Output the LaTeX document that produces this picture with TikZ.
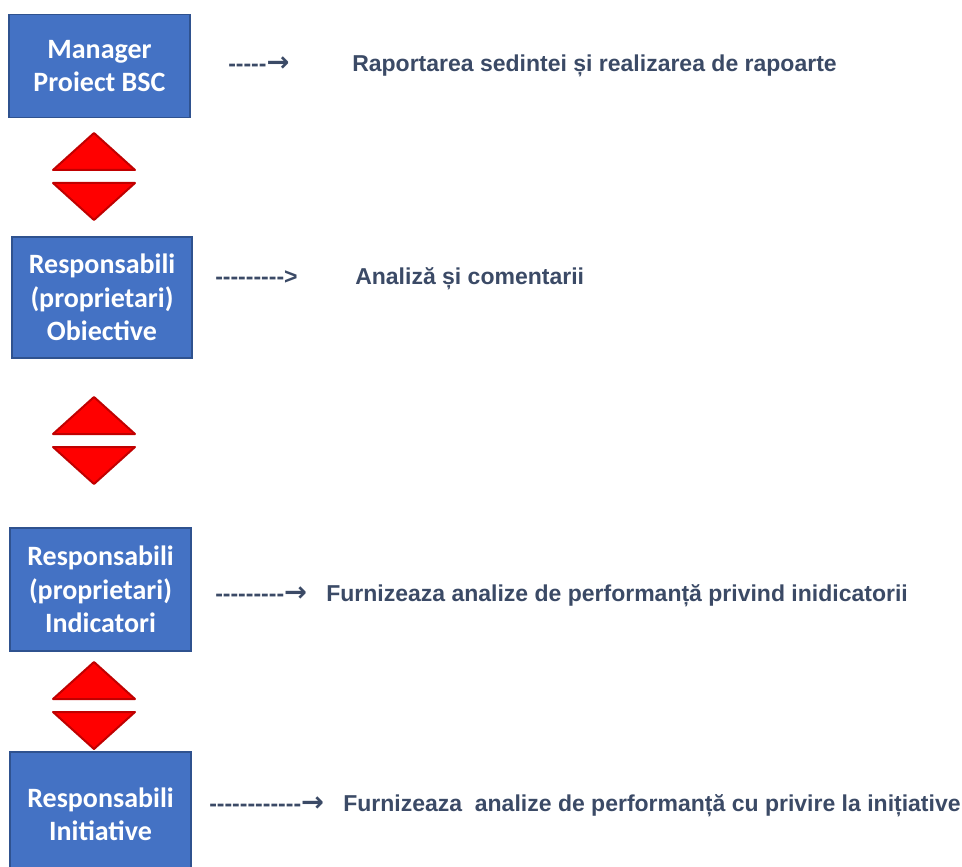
\documentclass[tikz,border=0pt]{standalone}
\usepackage{fontspec}
\setmainfont{Liberation Sans}
\newfontfamily\boxfont{Carlito}
\newfontfamily\leadfont[Ligatures=TeXOff]{Liberation Sans}
\newfontfamily\tipfont{DejaVu Sans}
\usepackage{tikz}
\definecolor{boxblue}{HTML}{4472C4}
\definecolor{boxedge}{HTML}{2F528F}
\definecolor{notegray}{HTML}{3B4A66}
\definecolor{trired}{HTML}{FF0000}
\definecolor{triedge}{HTML}{C00000}
\newcommand{\tip}{{\tipfont\bfseries\fontsize{20.5}{20}\selectfont →}}
\tikzset{
  role/.style={draw=boxedge, line width=1.2pt, fill=boxblue, text=white,
    minimum width=136pt, align=center, inner sep=0pt,
    font=\boxfont\bfseries\fontsize{21}{25}\selectfont},
  lead/.style={anchor=base west, inner sep=0pt, text=notegray,
    font=\leadfont\bfseries\fontsize{17.25}{20}\selectfont},
  note/.style={anchor=base west, inner sep=0pt, text=notegray,
    font=\bfseries\fontsize{17.25}{20}\selectfont}, 
  tri/.style={fill=trired, draw=triedge, line width=1.5pt, line join=round}
}
\begin{document}
\begin{tikzpicture}[x=0.75pt,y=-0.75pt]
        \useasboundingbox (0,0) rectangle (962,866);
        % Roles
        \node[role, minimum height=77pt] (mgr) at (99.5,66)
        {Manager\\Proiect BSC};
        \node[role, minimum height=90.5pt, minimum width=135pt] (objs) at (102,297.5)
        {Responsabili\\(proprietari)\\Obiective};
        \node[role, minimum height=92pt] (inds) at (100.5,589.5)
        {Responsabili\\(proprietari)\\Indicatori};
        \node[role, minimum height=93pt] (inits) at (100.5,814)
        {Responsabili\\Initiative};
        % Double triangles between the roles
        \foreach \m in {176.5,440.5,705.5}{
            \draw[tri] (53,\m-6.5) -- (94,\m-43.5) -- (135,\m-6.5) -- cycle;
            \draw[tri] (53,\m+6.5) -- (94,\m+43.5) -- (135,\m+6.5) -- cycle;
        }
        % Tasks (on a common baseline per row)
        \node[lead] (lead1) at (228,72) {-----\tip};
        \node[note] (task1) at (352,72)
        {Raportarea sedintei și realizarea de rapoarte};
        \node[lead] (lead2) at (215,284) {--------->};
        \node[note] (task2) at (355,284) {Analiză și comentarii};
        \node[lead] (lead3) at (215,601) {---------\tip};
        \node[note] (task3) at (326,601)
        {Furnizeaza analize de performanță privind inidicatorii};
        \node[lead] (lead4) at (209,811) {------------\tip};
        \node[note] (task4) at (343,811)
        {Furnizeaza\ \ analize de performanță cu privire la inițiative};
    \end{tikzpicture}
\end{document}
